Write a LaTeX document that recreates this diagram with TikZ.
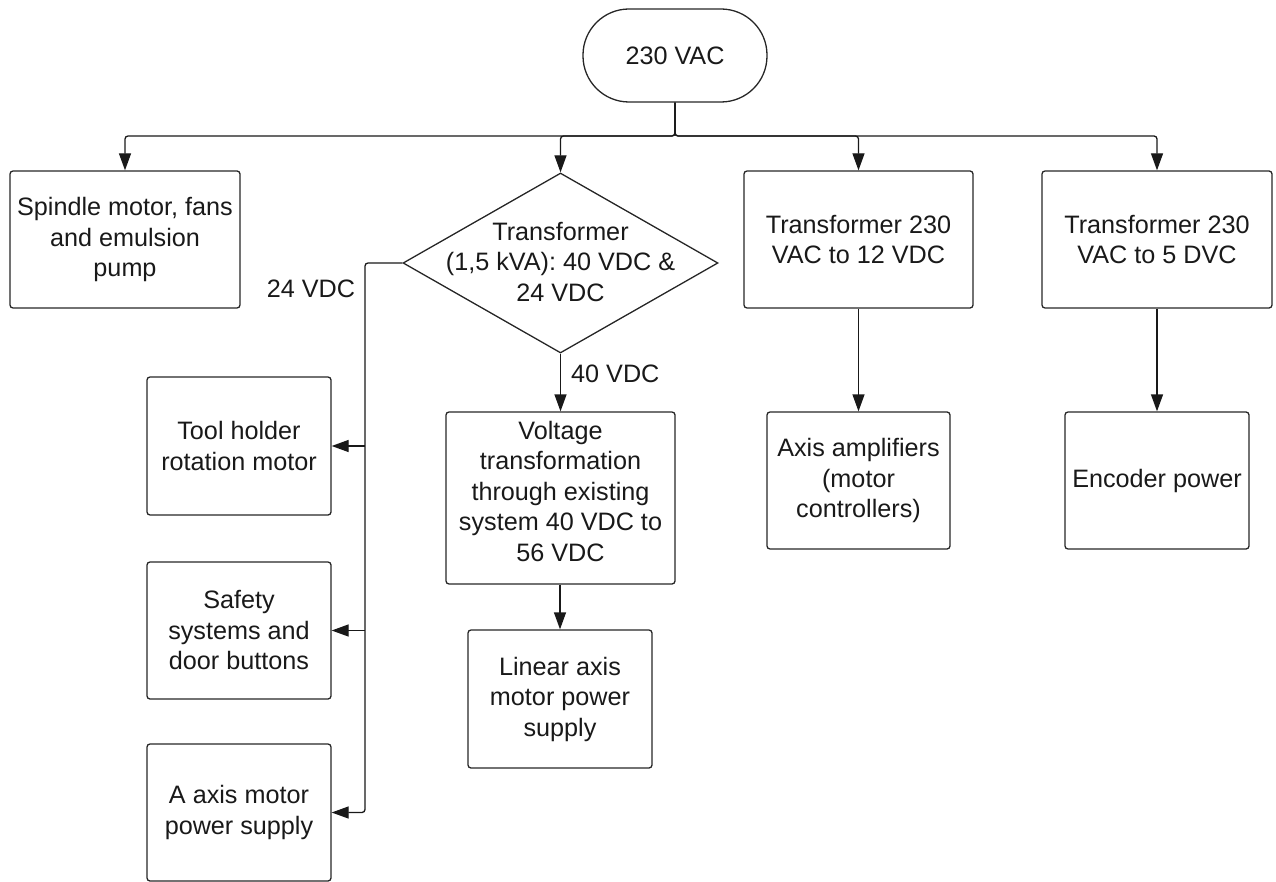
\documentclass[tikz,border=0pt]{standalone}
\usepackage{fontspec}
\setmainfont{Liberation Sans}
\usetikzlibrary{shapes.geometric,arrows.meta}
\begin{document}
\begin{tikzpicture}[x=1pt,y=-1pt,
  every node/.style={font=\fontsize{25.2}{30.5}\selectfont, text=black!90},
  box/.style={draw=black!85, line width=1.3pt, rounded corners=3pt, align=center, inner sep=0pt},
  arr/.style={draw=black!90, line width=1.3pt, rounded corners=3pt, -{Triangle[length=17pt,width=12pt]}},
  wire/.style={draw=black!90, line width=1.3pt, rounded corners=3pt}]
\useasboundingbox (0,0) rectangle (1276,882);
\node[box, rounded corners=46pt, minimum width=184pt, minimum height=93pt] (top) at (675,55.5) {230 VAC};
\coordinate (bus) at (675,136);
\node[box, minimum width=230pt, minimum height=137pt] (spindle) at (125,239.5) {Spindle motor, fans\\and emulsion\\pump};
\node[diamond, draw=black!85, line width=1.3pt, inner sep=0pt, minimum width=315pt, minimum height=180pt] (tr) at (560.5,263) {};
\node[align=center] (trt) at (560.5,262) {Transformer\\(1,5 kVA): 40 VDC \&\\24 VDC};
\node[box, minimum width=229pt, minimum height=137pt] (t12) at (858.5,239.5) {Transformer 230\\VAC to 12 VDC};
\node[box, minimum width=230pt, minimum height=137pt] (t5) at (1157,239.5) {Transformer 230\\VAC to 5 DVC};
\node[box, minimum width=229pt, minimum height=172pt] (volt) at (560.5,498) {};
\node[align=center] (voltt) at (560.5,491) {Voltage\\transformation\\through existing\\system 40 VDC to\\56 VDC};
\node[box, minimum width=184pt, minimum height=138pt] (linear) at (560,699) {Linear axis\\motor power\\supply};
\node[box, minimum width=183pt, minimum height=137pt] (amp) at (858.5,480.5) {Axis amplifiers\\(motor\\controllers)};
\node[box, minimum width=184pt, minimum height=137pt] (enc) at (1157,480.5) {Encoder power};
\node[box, minimum width=184pt, minimum height=138pt] (tool) at (239,446) {Tool holder\\rotation motor};
\node[box, minimum width=184pt, minimum height=137pt] (safety) at (239,630.5) {Safety\\systems and\\door buttons};
\node[box, minimum width=184pt, minimum height=137pt] (aaxis) at (239,812.5) {A axis motor\\power supply};
\coordinate (trunk) at (365,263);
\node[anchor=west, inner sep=0pt] (l40) at (571,374) {40 VDC};
\node[inner sep=0pt] (l24) at (311,289) {24 VDC};
% connectors
\draw[arr] (top.south) -- (bus) -| (spindle.north);
\draw[arr] (top.south) -- (bus) -| (tr.north);
\draw[arr] (top.south) -- (bus) -| (t12.north);
\draw[arr] (top.south) -- (bus) -| (t5.north);
\draw[arr] (tr.south) -- (volt.north);
\draw[arr] (volt.south -| linear.north) -- (linear.north);
\draw[arr] (t12.south) -- (amp.north);
\draw[arr] (t5.south) -- (enc.north);
\draw[arr] (tr.west) -- (trunk) |- (aaxis.east);
\draw[arr] (trunk |- tool.east) -- (tool.east);
\draw[arr] (trunk |- safety.east) -- (safety.east);
\end{tikzpicture}
\end{document}
